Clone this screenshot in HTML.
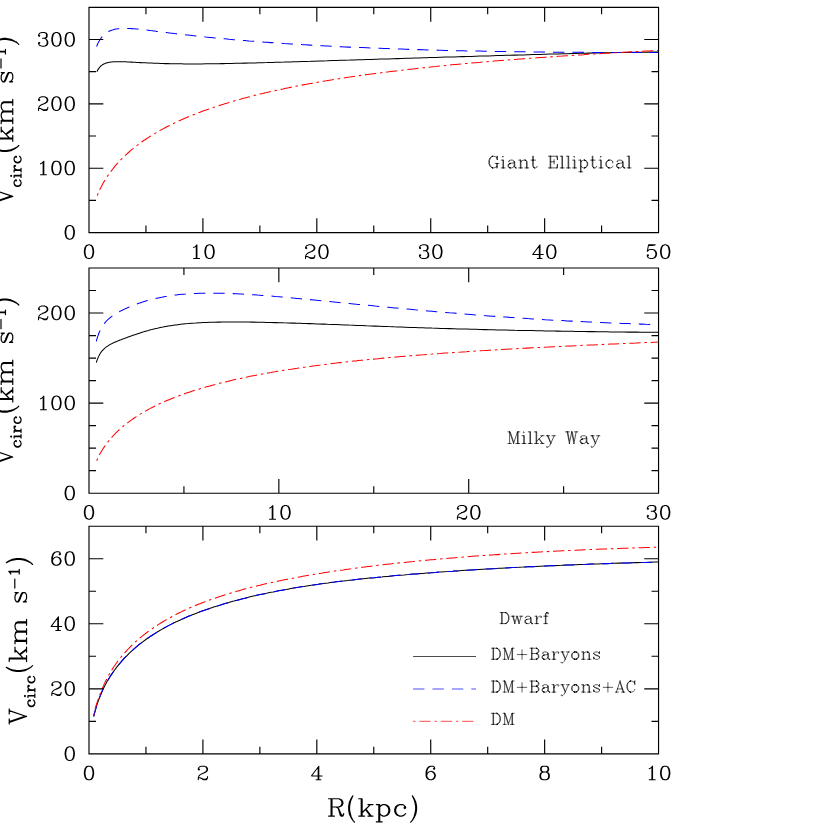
<!DOCTYPE html><html><head><meta charset="utf-8"><title>Circular velocity curves</title><style>html,body{margin:0;padding:0;background:#fff;font-family:"Liberation Sans",sans-serif}svg{display:block}</style></head><body><svg width="830" height="830" viewBox="0 0 830 830"><defs><path id="g40" d="M8.5 4.17L7 0.97L5.94 -2.49L5 -7.48L5 -12L6 -17.26L6.94 -20.26L8.62 -23.85M8.5 4.17L8.44 4.23M8.5 4.17L8.56 4.31M8.69 4.57L8.56 4.44M8.69 4.57L8.62 4.44M8.69 4.57L8.94 5.11L11 7.3M8.5 4.37L8.44 4.23M8.5 4.37L8.56 4.31M8.5 4.37L8.56 4.44M8.69 -24.12L8.81 -24.25M8.69 -24.12L8.75 -24.12M8.69 -24.12L8.62 -24.05M8.75 -24.12L8.69 -23.99M8.75 -24.12L8.81 -24.25M8.56 -23.92L8.62 -24.05M8.56 -23.92L7.06 -21.58L5 -17.19L4 -12L4 -7.48L5 -2.22L6.94 1.91L8.44 4.23M8.56 -23.92L8.62 -23.85M8.56 4.31L8.62 4.44M8.69 -23.99L8.62 -23.85M8.69 -23.99L8.62 -24.05M9 -24.59L8.81 -24.25M8.62 4.44L8.56 4.44"/><path id="g41" d="M5.31 4.57L5.38 4.44M5.31 4.57L5.06 5.11L3 7.3M5.31 4.57L5.44 4.44M5.25 -24.12L5.31 -23.99M5.25 -24.12L5.31 -24.12M5.25 -24.12L5.19 -24.25M5.19 -24.25L5.06 -24.59M5.19 -24.25L5.31 -24.12M5.31 -24.12L5.38 -24.05M5.44 -23.92L5.38 -24.05M5.44 -23.92L5.38 -23.85M5.44 -23.92L6.94 -21.58L9 -17.19L10 -12L10 -7.48L9 -2.22L7.06 1.91L5.56 4.23M5.44 4.31L5.5 4.17M5.44 4.31L5.38 4.44M5.44 4.31L5.5 4.37M5.56 4.23L5.5 4.37M5.56 4.23L5.5 4.17M5.31 -23.99L5.38 -23.85M5.31 -23.99L5.38 -24.05M5.5 4.17L7 0.97L8.06 -2.49L9 -7.48L9 -12L8 -17.26L7.06 -20.26L5.38 -23.85M5.38 4.44L5.44 4.44M5.5 4.37L5.44 4.44"/><path id="g43" d="M4 -9L13 -9M13 -9L13 -18M13 -9L13 0M13 -9L22 -9"/><path id="g45" d="M4 -9L22 -9"/><path id="g48" d="M8.38 -20.69L8.5 -20.75M8.38 -20.69L8.31 -20.75M8.38 -20.69L7 -20L6 -19L4.94 -16.81L4 -12.12L4 -8.88L5 -3.94L5.94 -2.06L7 -1L8.38 -0.31M11.69 -20.75L11.69 -20.69M11.69 -20.75L11.88 -20.69M11.69 -20.75L11.56 -20.81M8.38 -0.31L8.5 -0.25M8.38 -0.31L8.31 -0.25M8.62 -20.88L8.5 -20.81M8.62 -20.88L8.5 -20.75M8.62 -20.88L8.94 -21L11.06 -21L11.56 -20.81M8.31 -0.25L6 -1L4.06 -3.88L3 -8.88L3 -12.12L4 -17L6 -20L8.31 -20.75M8.31 -0.25L8.5 -0.19M8.5 -20.75L8.5 -20.81M8.62 -0.12L8.5 -0.19M8.62 -0.12L8.5 -0.25M8.62 -0.12L9 0L11.06 0L11.56 -0.19M11.56 -0.19L11.69 -0.31M11.56 -0.19L11.69 -0.25M11.81 -0.38L11.69 -0.31M11.81 -0.38L12.94 -0.94L14.06 -2.06L15 -3.94L16 -8.88L16 -12.12L15 -17L14 -19L12.94 -20.06L11.81 -20.62M11.81 -0.38L11.88 -0.31M11.88 -20.69L14 -20L15.94 -17.12L17 -12.12L17 -8.88L16 -4L14 -1L11.88 -0.31M11.88 -20.69L11.81 -20.62M8.5 -0.19L8.5 -0.25M11.56 -20.81L11.69 -20.69M11.69 -0.25L11.69 -0.31M11.69 -0.25L11.88 -0.31M8.5 -20.81L8.31 -20.75M11.81 -20.62L11.69 -20.69"/><path id="g49" d="M11 0L10 0M11 0L11 -20.88L10.94 -20.94L10 -19.94M11 0L15 0M10 0L6 0M10 0L10 -19.94M10 -19.94L7.94 -17.94L6 -17"/><path id="g50" d="M9.06 -9.44L9.06 -9.5M9.06 -9.44L9.19 -9.5M9.06 -9.44L8.94 -9.38M17 -5L16.94 -2.88M9.31 -9.62L9.19 -9.56M9.31 -9.62L9.44 -9.69M9.31 -9.62L9.38 -9.56M16.88 -2.75L16.06 -1.06L15 0L11 0L6.56 -2.69M16.88 -2.75L16.81 -2.81M16.88 -2.75L16.94 -2.88M6.56 -2.75L6.56 -2.69M6.56 -2.75L10.94 -1L14.06 -1L15.94 -1.94L16.81 -2.81M6.56 -2.75L6.44 -2.81M12.56 -20.81L12.06 -21L7.94 -21L5.12 -20.06L4 -19L3 -17L3 -16L4 -15L5 -16L4 -17M12.56 -20.81L12.69 -20.69M12.56 -20.81L12.69 -20.75M12.88 -20.69L15 -20L16 -19L17 -17L17 -14.94L15.94 -12.94L13.12 -11.06L9.5 -9.62M12.88 -20.69L12.69 -20.75M12.88 -20.69L12.81 -20.62M6.44 -2.81L6.44 -2.75M6.44 -2.81L6.31 -2.88M9.06 -9.5L8.94 -9.38M9.06 -9.5L9.19 -9.56M16.94 -2.88L16.81 -2.81M3 -2.06L3 -3.06L4 -6L6 -8L8.5 -9.25L8.94 -9.38M3 -2.06L3 0M3 -2.06L4 -3L6.06 -3L6.31 -2.88M9.19 -9.5L9.19 -9.56M9.19 -9.5L9.38 -9.56M9.38 -9.56L9.5 -9.62M12.81 -20.62L12.69 -20.69M12.81 -20.62L13.94 -20.06L15 -19L16 -17L16 -14.94L14.94 -12.94L11.94 -10.94L9.44 -9.69M12.69 -20.69L12.69 -20.75M6.31 -2.88L6.44 -2.75M9.44 -9.69L9.5 -9.62M6.56 -2.69L6.44 -2.75"/><path id="g51" d="M12.56 -0.19L12.06 0L7.94 0L5.12 -0.94L3.94 -2.06L3 -3.94L3 -5L4 -6L5 -5L4 -4M12.56 -0.19L12.69 -0.31M12.56 -0.19L12.69 -0.25M12.81 -12.38L12.69 -12.31M12.81 -12.38L14.06 -13.06L15 -14.94L15 -18L14 -20L12.81 -20.62M12.81 -12.38L12.88 -12.31M12.56 -20.81L12.06 -21L7.94 -21L5.12 -20.06L4 -19L3 -17L3 -16L4 -15L5 -16L4 -17M12.56 -20.81L12.69 -20.69M12.56 -20.81L12.69 -20.75M12.81 -0.38L12.69 -0.31M12.81 -0.38L13.94 -0.94L15.06 -2.06L16 -3.94L16 -7.06L15.06 -9.88M12.81 -0.38L12.88 -0.31M12.88 -20.69L14.88 -20.06L15.06 -19.88L16 -18L16 -14.94L15.06 -13.06L12.88 -12.31M12.88 -20.69L12.69 -20.75M12.88 -20.69L12.81 -20.62M12.69 -12.25L12.69 -12.31M12.69 -12.25L12.88 -12.31M12.69 -12.25L12.56 -12.19M12.69 -0.25L12.69 -0.31M12.69 -0.25L12.88 -0.31M12.88 -0.31L15 -1L16.06 -2.06L17 -3.94L17 -7L16 -9L15.06 -9.88M12.81 -20.62L12.69 -20.69M12.69 -20.69L12.69 -20.75M15.06 -9.88L13.94 -11.06L12.06 -12M12.69 -12.31L12.56 -12.19M12.06 -12L9 -12M12.06 -12L12.56 -12.19"/><path id="g52" d="M12 -19L12 -6M18 -6L13 -6M13 -20.88L12.38 -20.19L2.06 -6.12L2.12 -6L12 -6M13 -20.88L13 -21M13 -20.88L13 -6M16 0L13 0M13 -6L12 -6M13 -6L13 0M13 0L12 0M12 0L9 0M12 0L12 -6"/><path id="g53" d="M11.81 -0.38L11.69 -0.31M11.81 -0.38L12.94 -0.94L15 -3L16 -5.94L16 -8.06L15 -11L12.94 -13.06L11.81 -13.62M11.81 -0.38L11.88 -0.31M11.81 -13.62L11.69 -13.69M11.81 -13.62L11.88 -13.69M5 -20L10.12 -20L14.5 -20.88L14.56 -21M4 -4L5 -5L4 -6L3 -5L3 -3.94L3.94 -2.06L5 -1L7.94 0L11.06 0L11.56 -0.19M11.69 -0.31L11.56 -0.19M11.69 -0.31L11.69 -0.25M3.12 -11.12L3.06 -11.19M3.12 -11.12L3.06 -11.06L3.06 -11.19M3.12 -11.12L5 -13L7.94 -14L11.06 -14L11.56 -13.81M11.88 -13.69L14 -13L16 -11L17 -8.06L17 -5.94L16 -3L14 -1L11.88 -0.31M11.88 -13.69L11.69 -13.75M11.69 -13.75L11.69 -13.69M11.69 -13.75L11.56 -13.81M11.69 -13.69L11.56 -13.81M14.56 -21L5.06 -21L4.94 -20.81L3.06 -11.19M14.56 -21L15 -21M11.69 -0.25L11.88 -0.31M11.69 -0.25L11.56 -0.19"/><path id="g54" d="M9.5 -20.75L9.5 -20.81M9.5 -20.75L9.62 -20.88M9.5 -20.75L9.38 -20.69M8.38 -0.31L8.5 -0.25M8.38 -0.31L7 -1L5 -3L4 -5.94L4 -7.25M8.38 -0.31L8.31 -0.25M11.69 -12.75L11.69 -12.69M11.69 -12.75L11.88 -12.69M11.69 -12.75L11.56 -12.81M8.31 -0.25L6 -1L3.94 -3.12L3 -5.94L3 -12.06L4 -16L5 -18L7 -20L9.31 -20.75M8.31 -0.25L8.5 -0.19M4 -7.25L4 -12.06L5 -16L6 -18L8 -20L9.38 -20.69M4 -7.25L4.12 -7.31L5 -10L7 -12L9.94 -13L11.06 -13L11.56 -12.81M8.62 -0.12L8.5 -0.19M8.62 -0.12L8.5 -0.25M8.62 -0.12L9 0L11.06 0L11.56 -0.19M9.5 -20.81L9.31 -20.75M9.5 -20.81L9.62 -20.88M11.56 -0.19L11.69 -0.31M11.56 -0.19L11.69 -0.25M9.31 -20.75L9.38 -20.69M11.81 -0.38L11.69 -0.31M11.81 -0.38L12.94 -0.94L15 -3L16 -5.94L16 -7.06L15 -10L12.94 -12.06L11.81 -12.62M11.81 -0.38L11.88 -0.31M8.5 -0.19L8.5 -0.25M11.88 -12.69L14 -12L16 -10L17 -7.06L17 -5.94L16 -3L14 -1L11.88 -0.31M11.88 -12.69L11.81 -12.62M11.56 -12.81L11.69 -12.69M11.69 -0.25L11.69 -0.31M11.69 -0.25L11.88 -0.31M15 -18L14 -17L15 -16L16 -17L16 -18L14.94 -20.06L13.06 -21L9.94 -21L9.62 -20.88M11.81 -12.62L11.69 -12.69"/><path id="g56" d="M7.5 -12.25L7.5 -12.19M7.5 -12.25L7.62 -12.12M7.5 -12.25L7.38 -12.31M12.56 -0.19L12.06 0L8 0L7.62 -0.12M12.56 -0.19L12.69 -0.31M12.56 -0.19L12.69 -0.25M12.88 -11.69L15 -11L16 -10L17 -8L17 -3.94L16.06 -2.06L15 -1L12.88 -0.31M12.88 -11.69L12.69 -11.75M12.88 -11.69L12.81 -11.62M7.31 -20.75L5.12 -20.06L4.94 -19.88L4 -18L4 -14.94L4.94 -13.06L7.31 -12.25M7.31 -20.75L7.5 -20.81M7.31 -20.75L7.38 -20.69M7.38 -11.69L7.5 -11.75M7.38 -11.69L7.31 -11.75M7.38 -11.69L6 -11L5 -10L4 -8L4 -3.94L4.94 -2.06L6 -1L7.38 -0.31M7.5 -0.25L7.5 -0.19M7.5 -0.25L7.62 -0.12M7.5 -0.25L7.38 -0.31M12.81 -12.38L12.69 -12.31M12.81 -12.38L14.06 -13.06L15 -14.94L15 -18L14 -20L12.81 -20.62M12.81 -12.38L12.88 -12.31M12.56 -20.81L12.06 -21L7.94 -21L7.62 -20.88M12.56 -20.81L12.69 -20.69M12.56 -20.81L12.69 -20.75M12.81 -11.62L12.69 -11.69M12.81 -11.62L13.94 -11.06L15 -10L16 -8L16 -3.94L15.06 -2.06L13.94 -0.94L12.81 -0.38M12.81 -0.38L12.69 -0.31M12.81 -0.38L12.88 -0.31M7.38 -20.69L7.5 -20.75M7.38 -20.69L6.12 -20.06L5.94 -19.88L5 -18L5 -14.94L5.94 -13.06L7.38 -12.31M12.88 -20.69L14.88 -20.06L15.06 -19.88L16 -18L16 -14.94L15.06 -13.06L12.88 -12.31M12.88 -20.69L12.69 -20.75M12.88 -20.69L12.81 -20.62M7.62 -11.88L7.5 -11.81M7.62 -11.88L7.5 -11.75M7.62 -11.88L7.94 -12M12.69 -12.25L12.69 -12.31M12.69 -12.25L12.88 -12.31M12.69 -12.25L12.56 -12.19M12.69 -11.69L12.56 -11.81M12.69 -11.69L12.69 -11.75M7.38 -12.31L7.31 -12.25M12.69 -0.25L12.69 -0.31M12.69 -0.25L12.88 -0.31M7.38 -0.31L7.31 -0.25M7.5 -11.75L7.5 -11.81M12.81 -20.62L12.69 -20.69M7.62 -20.88L7.5 -20.81M7.62 -20.88L7.5 -20.75M7.31 -12.25L7.5 -12.19M7.31 -0.25L5 -1L3.94 -2.06L3 -3.94L3 -8L4 -10L5 -11L7.31 -11.75M7.31 -0.25L7.5 -0.19M7.94 -12L12.06 -12M7.94 -12L7.62 -12.12M12.69 -20.69L12.69 -20.75M7.62 -12.12L7.5 -12.19M12.69 -12.31L12.56 -12.19M7.5 -20.75L7.5 -20.81M7.62 -0.12L7.5 -0.19M12.06 -12L12.56 -12.19M12.06 -12L12.56 -11.81M12.69 -11.75L12.56 -11.81M7.5 -11.81L7.31 -11.75"/><path id="g65" d="M19 0L17 0M17 0L16 0M17 0L10 -20.94M16 0L13 0M16 0L14 -6M10 -20.94L10 -21M10 -20.94L5 -6M14 -6L5 -6M14 -6L10 -18M3 0L1 0M3 0L5 -6M3 0L7 0"/><path id="g66" d="M14.69 -0.25L14.69 -0.31M14.69 -0.25L14.88 -0.31M14.69 -0.25L14.56 -0.19M14.69 -11.31L14.56 -11.19M14.69 -11.31L14.69 -11.25M14.69 -11.31L14.81 -11.38M5 0L2 0M5 0L5 -21M5 0L6 0M14.69 -10.75L14.69 -10.69M14.69 -10.75L14.88 -10.69M14.69 -10.75L14.56 -10.81M5 -21L2 -21M5 -21L6 -21M14.69 -20.69L14.56 -20.81M14.69 -20.69L14.69 -20.75M14.69 -20.69L14.81 -20.62M14.56 -11.19L14.06 -11M14.56 -11.19L14.69 -11.25M14.56 -10.81L14.06 -11M14.56 -10.81L14.69 -10.69M14.81 -11.38L15.94 -11.94L17.06 -13.06L18 -14.94L18 -17L17 -19L15.94 -20.06L14.81 -20.62M14.81 -11.38L14.88 -11.31M14.81 -10.62L14.69 -10.69M14.81 -10.62L14.88 -10.69M14.81 -10.62L15.94 -10.06L17 -9L18 -7L18 -3.94L17.06 -2.06L15.94 -0.94L14.81 -0.38M14.88 -10.69L17 -10L18 -9L19 -7L19 -3.94L18.06 -2.06L17 -1L14.88 -0.31M14.69 -0.31L14.56 -0.19M14.69 -0.31L14.81 -0.38M6 -11L6 -21M6 -11L6 0M6 -11L14.06 -11M14.56 -0.19L14.06 0L6 0M14.69 -20.75L14.88 -20.69M14.69 -20.75L14.56 -20.81M14.81 -0.38L14.88 -0.31M14.88 -11.31L17 -12L18.06 -13.06L19 -14.94L19 -17L18 -19L17 -20L14.88 -20.69M14.88 -11.31L14.69 -11.25M14.56 -20.81L14.06 -21L6 -21M14.81 -20.62L14.88 -20.69"/><path id="g67" d="M17 -18.06L14.88 -20.06L12.06 -21L9.94 -21L9.62 -20.88M17 -18.06L17.94 -15.25M17 -18.06L17.94 -20.75M18 -5L17.06 -3.06L15 -1L12.06 0L10 0L9.62 -0.12M9.62 -20.88L9.5 -20.81M9.62 -20.88L9.5 -20.75M9.5 -0.19L9.31 -0.25M9.5 -0.19L9.5 -0.25M9.5 -0.19L9.62 -0.12M17.94 -20.75L18 -21M17.94 -20.75L17.94 -15.25M9.5 -20.81L9.31 -20.75M9.5 -20.81L9.5 -20.75M9.5 -0.25L9.62 -0.12M9.5 -0.25L9.38 -0.31M9.5 -20.75L9.38 -20.69M9.31 -0.25L7 -1L4.94 -3.06L4 -4.94L3 -7.94L3 -13.06L3.94 -15.88L5 -18L7 -20L9.31 -20.75M9.31 -0.25L9.38 -0.31M17.94 -15.25L18 -15M9.31 -20.75L9.38 -20.69M9.38 -0.31L8 -1L5.94 -3.06L5 -4.94L4 -7.94L4 -13.06L4.94 -15.88L6 -18L8 -20L9.38 -20.69"/><path id="g68" d="M12.88 -20.69L15 -20L17 -18L18.06 -15.88L19 -13.06L19 -7.94L18 -4.94L17.06 -3.06L15 -1L12.88 -0.31M12.88 -20.69L12.69 -20.75M12.88 -20.69L12.81 -20.62M6 0L5 0M6 0L6 -21M6 0L12.06 0L12.56 -0.19M12.56 -0.19L12.69 -0.31M12.56 -0.19L12.69 -0.25M5 0L2 0M5 0L5 -21M12.69 -20.69L12.56 -20.81M12.69 -20.69L12.69 -20.75M12.69 -20.69L12.81 -20.62M12.69 -0.31L12.69 -0.25M12.69 -0.31L12.81 -0.38M12.69 -20.75L12.56 -20.81M12.69 -0.25L12.88 -0.31M12.88 -0.31L12.81 -0.38M12.56 -20.81L12.06 -21L6 -21M6 -21L5 -21M5 -21L2 -21M12.81 -20.62L13.94 -20.06L16 -18L17.06 -15.88L18 -13.06L18 -7.94L17 -4.94L16.06 -3.06L13.94 -0.94L12.81 -0.38"/><path id="g69" d="M12 -15L12 -11M18 -6L17.94 -5.44M17.94 -5.44L17 0M17.94 -5.44L18 -0.06L17 0M17 0L6 0M12 -11L6 -11M12 -11L12 -7M17.94 -15.5L18 -15M17.94 -15.5L17 -21M17.94 -15.5L18 -20.94L17 -21M2 0L5 0M6 0L5 0M6 0L6 -11M5 0L5 -21M17 -21L6 -21M6 -21L5 -21M6 -21L6 -11M5 -21L2 -21"/><path id="g71" d="M9.5 -20.75L9.5 -20.81M9.5 -20.75L9.62 -20.88M9.5 -20.75L9.38 -20.69M18 -15L17.94 -15.25M17 -2.94L14.88 -0.94L12.06 0L10 0L9.62 -0.12M17 -2.94L17 -8M17 -2.94L17 0M9.5 -0.19L9.31 -0.25M9.5 -0.19L9.5 -0.25M9.5 -0.19L9.62 -0.12M9.5 -20.81L9.31 -20.75M9.5 -20.81L9.62 -20.88M9.31 -20.75L7 -20L5 -18L3.94 -15.88L3 -13.06L3 -7.94L4 -4.94L4.94 -3.06L7 -1L9.31 -0.25M9.31 -20.75L9.38 -20.69M18 -8L17 -8M18 -8L18 0M18 -8L21 -8M14 -8L17 -8M17 -18.06L14.88 -20.06L12.06 -21L9.94 -21L9.62 -20.88M17 -18.06L17.94 -15.25M17 -18.06L17.94 -20.75M9.5 -0.25L9.62 -0.12M9.5 -0.25L9.38 -0.31M18 -21L17.94 -20.75M17.94 -15.25L17.94 -20.75M9.38 -20.69L8 -20L6 -18L4.94 -15.88L4 -13.06L4 -7.94L5 -4.94L5.94 -3.06L8 -1L9.38 -0.31M9.31 -0.25L9.38 -0.31"/><path id="g77" d="M23 0L20 0M20 0L19 0M20 0L20 -21M19 0L16 0M19 0L18.94 -20.75M5 0L2 0M5 0L5 -20.75M5 0L8 0M12 0L12 -0.06M12 -3L6.06 -20.88L5.94 -21L5 -21M18.94 -20.75L19.06 -21L20 -21M18.94 -20.75L12 -0.06M5 -20.75L5 -21M5 -20.75L5.12 -20.69L12 -0.06M23 -21L20 -21M5 -21L2 -21"/><path id="g82" d="M14.69 -11.31L14.56 -11.19M14.69 -11.31L14.69 -11.25M14.69 -11.31L14.81 -11.38M5 0L2 0M5 0L5 -21M5 0L6 0M13.12 -9.75L14.06 -7.88L16 -1L17 0L19 0L19.88 -1.75M13.12 -9.75L13.06 -9.88M13.12 -9.75L13.19 -9.81M19.94 -1.88L19.81 -1.81M19.94 -1.88L20 -3M19.94 -1.88L19.88 -1.75M19.88 -1.75L19.81 -1.81M5 -21L2 -21M5 -21L6 -21M14.69 -20.69L14.56 -20.81M14.69 -20.69L14.69 -20.75M14.69 -20.69L14.81 -20.62M14.56 -11.19L14.06 -11L11.19 -11M14.56 -11.19L14.69 -11.25M14.81 -11.38L15.94 -11.94L17.06 -13.06L18 -14.94L18 -17L17 -19L15.94 -20.06L14.81 -20.62M14.81 -11.38L14.88 -11.31M13.06 -9.88L12.94 -10.06L11.25 -10.88L11.19 -11M13.06 -9.88L13.19 -9.81M6 -11L6 -21M6 -11L6 0M6 -11L11.19 -11M14.69 -20.75L14.88 -20.69M14.69 -20.75L14.56 -20.81M14.88 -11.31L17 -12L18.06 -13.06L19 -14.94L19 -17L18 -19L17 -20L14.88 -20.69M14.88 -11.31L14.69 -11.25M14.56 -20.81L14.06 -21L6 -21M14.81 -20.62L14.88 -20.69M6 0L9 0M19.81 -1.81L19 -1L18 -1L17 -2L14.19 -8.62L14 -9L13.19 -9.81"/><path id="g86" d="M10 0L10 -0.06M10 -0.06L3 -21M10 -0.06L17 -21M7 -21L4 -21M19 -21L17 -21M17 -21L13 -21M4 -21L3 -21M4 -21L10 -3M3 -21L1 -21"/><path id="g87" d="M8 -0.12L8 0M8 -0.12L4 -21M8 -0.12L12 -20.88M16 -5L13 -21M16 0L16 -0.12M12 -20.88L12 -21M12 -20.88L16 -0.12M8 -5L5 -21M23 -21L20 -21M20 -21L17 -21M20 -21L16 -0.12M5 -21L4 -21M5 -21L8 -21M4 -21L1 -21"/><path id="g97" d="M16.81 -0.12L16.69 -0.19M16.81 -0.12L16.75 -0.25M16.81 -0.12L17 0L18 0M6.62 -0.12L6.5 -0.19M6.62 -0.12L6.5 -0.25M6.62 -0.12L7 0L10.06 0L11.94 -0.94L14 -2.94M14 -11.81L14 -12L12.94 -13.06L11.06 -14L7 -14L5 -13L4 -12L4.06 -11L5 -11.06L5 -12M14 -11.81L14 -9.94M14 -11.81L14.12 -11.75L15 -10L15 -2.94L15.94 -1.06L16.75 -0.25M16.69 -0.19L14.94 -1.06L14 -2.94M16.69 -0.19L16.75 -0.25M6.5 -7.81L6.31 -7.75M6.5 -7.81L6.5 -7.75M6.5 -7.81L6.62 -7.88M6.38 -0.31L6.5 -0.25M6.38 -0.31L4.94 -1.06L4 -2.94L4 -5L4.94 -6.88L5.12 -7.06L6.38 -7.69M6.38 -0.31L6.31 -0.25M6.31 -0.25L4 -1L3 -2.94L3 -5L3.94 -6.88L4.12 -7.06L6.31 -7.75M6.31 -0.25L6.5 -0.19M6.5 -0.19L6.5 -0.25M6.31 -7.75L6.38 -7.69M14 -9.94L13 -9L12.81 -8.94L7.25 -8.06L6.62 -7.88M14 -9.94L14 -2.94M6.62 -7.88L6.5 -7.75M6.38 -7.69L6.5 -7.75"/><path id="g99" d="M8.5 -13.81L8.31 -13.75M8.5 -13.81L8.5 -13.75M8.5 -13.81L8.62 -13.88M16 -3L13.88 -0.94L11.06 0L9 0L8.62 -0.12M15 -11L14 -10L15 -9L16 -10L16 -11L13.94 -13.06L12.06 -14L8.94 -14L8.62 -13.88M8.31 -0.25L6 -1L4 -3L3 -5.94L3 -8.06L4 -11L6 -13L8.31 -13.75M8.31 -0.25L8.38 -0.31M8.31 -0.25L8.5 -0.19M8.5 -0.19L8.5 -0.25M8.5 -0.19L8.62 -0.12M8.38 -13.69L8.5 -13.75M8.38 -13.69L8.31 -13.75M8.38 -13.69L7 -13L5 -11L4 -8.06L4 -5.94L5 -3L7 -1L8.38 -0.31M8.38 -0.31L8.5 -0.25M8.5 -0.25L8.62 -0.12M8.5 -13.75L8.62 -13.88"/><path id="g102" d="M2 -14L5 -14M7.69 -20.81L6.12 -20.06L5.94 -19.88L5 -18L5 -14M7.69 -20.81L7.81 -20.88M7.69 -20.81L7.75 -20.75M6 0L5 0M6 0L6 -14M6 0L9 0M5 0L2 0M5 0L5 -14M7.81 -20.88L7.75 -20.75M7.81 -20.88L8 -21L10 -21L11 -20L11 -19L10 -18L9 -19L10 -20M7.75 -20.75L7 -20L6 -18L6 -14M10 -14L6 -14M6 -14L5 -14"/><path id="g105" d="M2 -14L5 -14M6 0L5 0M6 0L6 -13.94L5 -14M6 0L9 0M5 0L2 0M5 0L5 -14M4.06 -20.06L4 -20L5 -19L6 -20L5 -21L4.06 -20.06"/><path id="g107" d="M13 -14L15.94 -14M16.94 0L15.94 0M16.94 0L11 -8M16.94 0L19 0M15.94 0L13 0M15.94 0L10 -8M6 0L5 0M6 0L6 -4.06M6 0L9 0M5 0L2 0M5 0L5 -21M6 -4.06L6 -20.94L5 -21M6 -4.06L10 -8M15.94 -14L10 -8M15.94 -14L19 -14M5 -21L2 -21"/><path id="g108" d="M6 0L5 0M6 0L6 -20.94L5 -21M6 0L9 0M5 0L2 0M5 0L5 -21M5 -21L2 -21"/><path id="g109" d="M31 0L28 0M20 0L17 0M16 0L13 0M16 0L16 -11L15 -13L13.81 -13.62M16 0L17 0M5 0L2 0M5 0L5 -14M5 0L6 0M27 0L24 0M27 0L27 -11L26 -13L24.81 -13.62M27 0L28 0M24.56 -13.81L24.06 -14L21.94 -14L19.12 -13.06L17 -11M24.56 -13.81L24.69 -13.69M24.56 -13.81L24.69 -13.75M13.56 -13.81L13.06 -14L10.94 -14L8.12 -13.06L6 -11.06M13.56 -13.81L13.69 -13.69M13.56 -13.81L13.69 -13.75M2 -14L5 -14M24.88 -13.69L26.88 -13.06L27.06 -12.88L28 -11L28 0M24.88 -13.69L24.69 -13.75M24.88 -13.69L24.81 -13.62M13.88 -13.69L15.88 -13.06L16.06 -12.88L17 -11M13.88 -13.69L13.69 -13.75M13.88 -13.69L13.81 -13.62M5 -14L6 -13.94L6 -11.06M13.81 -13.62L13.69 -13.69M17 -11L17 0M24.81 -13.62L24.69 -13.69M24.69 -13.69L24.69 -13.75M13.69 -13.69L13.69 -13.75M6 0L6 -11.06M6 0L9 0"/><path id="g110" d="M13.56 -13.81L13.06 -14L10.94 -14L8.12 -13.06L6 -11.06M13.56 -13.81L13.69 -13.69M13.56 -13.81L13.69 -13.75M20 0L17 0M2 -14L5 -14M17 0L16 0M17 0L17 -11L16.06 -12.88L15.88 -13.06L13.88 -13.69M16 0L13 0M16 0L16 -11L15 -13L13.81 -13.62M6 0L5 0M6 0L6 -11.06M6 0L9 0M2 0L5 0M13.88 -13.69L13.69 -13.75M13.88 -13.69L13.81 -13.62M6 -11.06L6 -13.94L5 -14M5 0L5 -14M13.69 -13.69L13.69 -13.75M13.69 -13.69L13.81 -13.62"/><path id="g111" d="M8.5 -13.81L8.31 -13.75M8.5 -13.81L8.5 -13.75M8.5 -13.81L8.62 -13.88M11.81 -13.62L11.69 -13.69M11.81 -13.62L11.88 -13.69M11.81 -13.62L12.94 -13.06L15 -11L16 -8.06L16 -5.94L15 -3L12.94 -0.94L11.81 -0.38M11.69 -13.69L11.56 -13.81M11.69 -13.69L11.69 -13.75M8.31 -13.75L6 -13L4 -11L3 -8.06L3 -5.94L4 -3L6 -1L8.31 -0.25M8.31 -13.75L8.38 -13.69M8.38 -0.31L8.5 -0.25M8.38 -0.31L7 -1L5 -3L4 -5.94L4 -8.06L5 -11L7 -13L8.38 -13.69M8.38 -0.31L8.31 -0.25M8.31 -0.25L8.5 -0.19M8.38 -13.69L8.5 -13.75M8.62 -0.12L8.5 -0.19M8.62 -0.12L8.5 -0.25M8.62 -0.12L9 0L11.06 0L11.56 -0.19M11.69 -13.75L11.88 -13.69M11.69 -13.75L11.56 -13.81M11.56 -0.19L11.69 -0.31M11.56 -0.19L11.69 -0.25M8.62 -13.88L8.5 -13.75M8.62 -13.88L8.94 -14L11.06 -14L11.56 -13.81M11.81 -0.38L11.69 -0.31M11.81 -0.38L11.88 -0.31M8.5 -0.19L8.5 -0.25M11.69 -0.25L11.69 -0.31M11.69 -0.25L11.88 -0.31M11.88 -0.31L14 -1L16 -3L17 -5.94L17 -8.06L16 -11L14 -13L11.88 -13.69"/><path id="g112" d="M12.56 -13.81L12.06 -14L10 -14L8 -13L6 -11.06M12.56 -13.81L12.69 -13.69M12.56 -13.81L12.69 -13.75M2 -14L5 -14M12.56 -0.19L12.06 0L10 0L8 -1L6 -2.94M12.56 -0.19L12.69 -0.31M12.56 -0.19L12.69 -0.25M6 -11.06L6 -13.94L5 -14M6 -11.06L6 -2.94M12.88 -13.69L15 -13L17 -11L18 -8.06L18 -5.94L17 -3L15 -1L12.88 -0.31M12.88 -13.69L12.69 -13.75M12.88 -13.69L12.81 -13.62M6 7L5 7M6 7L6 -2.94M6 7L9 7M5 7L2 7M5 7L5 -14M12.69 -0.31L12.69 -0.25M12.69 -0.31L12.81 -0.38M12.69 -13.69L12.69 -13.75M12.69 -13.69L12.81 -13.62M12.69 -0.25L12.88 -0.31M12.88 -0.31L12.81 -0.38M12.81 -13.62L13.94 -13.06L16 -11L17 -8.06L17 -5.94L16 -3L13.94 -0.94L12.81 -0.38"/><path id="g114" d="M2 -14L5 -14M6 0L5 0M6 0L6 -8.25M6 0L9 0M5 0L2 0M5 0L5 -14M6 -8.25L6 -13.94L5 -14M6 -8.25L6.12 -8.31L7 -11L9 -13L11 -14L14 -14L15 -13L15 -12L14 -11L13 -12L14 -13"/><path id="g115" d="M14 -14L14 -13.81M14 -13.81L13.88 -13.75L13 -12M14 -13.81L14 -10.19L13.88 -10.19L13 -12M3 -4L3 -3.81M3 -3.81L3 -0.19L3.12 -0.19L4 -1.94M3 -3.81L3.12 -3.75L4 -1.94M14 -4.06L12.94 -5.06L11.06 -6L6.25 -7.88L4 -9L3 -10L3 -10.94M14 -4.06L14 -5L12.94 -6.06L11.06 -7L6.25 -8.88L4 -10L3 -10.94M14 -4.06L14 -2L12.94 -0.94L11.06 0L7 0L5 -1L4 -1.94M3 -10.94L3 -12L4 -13L6 -14L10.06 -14L11.94 -13.06L13 -12"/><path id="g116" d="M2 -14L5 -14M7.81 -0.12L7.69 -0.19M7.81 -0.12L7.75 -0.25M7.81 -0.12L8 0L10.06 0L11.94 -0.94L13 -3M6 -14L5 -14M6 -14L6 -21M6 -14L6 -3.94L6.94 -1.12L7.75 -0.25M6 -14L10 -14M7.75 -0.25L7.69 -0.19M7.69 -0.19L6.12 -0.94L5.94 -1.12L5 -3.94L5 -14M5 -14L5 -21"/><path id="g119" d="M13 -14L16 -3M12 -14L12 -13.94M1 -14L4 -14M4 -14L8 -0.06M4 -14L5 -14M16 0L16 -0.06M8 -14L5 -14M8 0L8 -0.06M8 -3L5 -14M23 -14L20 -14M16 -0.06L12 -13.94M16 -0.06L20 -14M12 -13.94L8 -0.06M20 -14L17 -14"/><path id="g121" d="M12 -14L16 -14M2 -14L4 -14M8 -14L5 -14M4 6L3 5L2 6L3 7L4.06 7L5.94 6.06L8.06 3.94L10 -0.06M10 -0.06L4 -14M10 -0.06L16 -14M5 -14L4 -14M5 -14L10 -2M18 -14L16 -14"/></defs><g fill="none"><rect width="830" height="830" fill="#fff"/><clipPath id="c0"><rect x="89.0" y="7.35" width="569.55" height="225.2"/></clipPath><clipPath id="c1"><rect x="89.0" y="268.0" width="569.55" height="225.2"/></clipPath><clipPath id="c2"><rect x="89.0" y="526.2" width="569.55" height="227.65"/></clipPath><path d="M96.9 71.7L97.2 71.1L97.5 70.5L97.8 69.9L98.1 69.4L98.5 68.9L98.8 68.4L99.2 67.9L99.5 67.4L99.9 67.0L100.3 66.6L100.7 66.2L101.1 65.8L101.3 65.7L101.5 65.4L102.0 65.1L102.4 64.8L102.9 64.5L103.4 64.2L103.9 63.9L104.4 63.7L105.0 63.5L105.5 63.2L105.6 63.2L106.1 63.0L106.7 62.9L107.3 62.7L107.9 62.5L108.6 62.4L109.3 62.3L110.0 62.2L110.0 62.2L110.7 62.1L111.4 62.0L112.2 61.9L113.0 61.8L113.8 61.8L114.3 61.7L114.6 61.7L115.5 61.7L116.4 61.7L117.4 61.7L118.3 61.7L118.7 61.7L119.3 61.7L120.3 61.7L121.4 61.7L122.5 61.7L123.0 61.7L123.6 61.8L124.8 61.8L126.0 61.8L127.2 61.9L127.4 61.9L128.5 62.0L129.9 62.0L131.2 62.1L131.7 62.1L132.6 62.2L134.1 62.2L135.6 62.3L136.1 62.4L137.2 62.4L138.8 62.5L140.4 62.6L140.5 62.6L142.2 62.7L144.0 62.8L144.8 62.8L145.8 62.8L147.7 62.9L149.2 63.0L149.6 63.0L151.7 63.1L153.5 63.2L153.7 63.2L155.9 63.3L157.9 63.3L158.1 63.3L160.4 63.4L162.2 63.5L162.8 63.5L165.2 63.6L166.6 63.6L167.8 63.6L170.4 63.7L170.9 63.7L173.1 63.7L175.3 63.8L175.9 63.8L178.8 63.8L179.6 63.8L181.7 63.8L184.0 63.9L184.8 63.9L188.0 63.9L188.3 63.9L191.3 63.9L192.7 63.9L194.6 63.9L197.0 63.9L198.1 63.9L201.4 63.9L201.8 63.9L205.5 63.8L205.8 63.8L209.3 63.8L210.1 63.8L213.3 63.7L214.5 63.7L217.4 63.7L218.8 63.7L221.7 63.6L223.2 63.6L226.0 63.5L227.5 63.5L230.6 63.4L231.9 63.4L235.2 63.3L236.2 63.3L240.1 63.2L240.6 63.2L244.9 63.1L245.1 63.1L249.3 63.0L250.2 63.0L253.7 62.9L255.5 62.9L258.0 62.8L261.0 62.7L262.4 62.7L266.7 62.6L266.7 62.6L271.1 62.4L272.5 62.4L275.4 62.3L278.6 62.2L279.8 62.2L284.1 62.1L284.8 62.0L288.5 61.9L291.3 61.9L292.8 61.8L297.2 61.7L297.9 61.7L301.6 61.5L304.8 61.4L305.9 61.4L310.3 61.3L311.9 61.2L314.6 61.2L319.0 61.0L319.3 61.0L323.3 60.9L326.9 60.8L327.7 60.7L332.0 60.6L334.7 60.5L336.4 60.5L340.7 60.3L342.8 60.3L345.1 60.2L349.4 60.1L351.1 60.0L353.8 59.9L358.2 59.8L359.7 59.8L362.5 59.7L366.9 59.5L368.7 59.5L371.2 59.4L375.6 59.3L377.9 59.2L379.9 59.1L384.3 59.0L387.4 58.9L388.6 58.9L393.0 58.7L397.2 58.6L397.3 58.6L401.7 58.5L406.1 58.3L407.3 58.3L410.4 58.2L414.8 58.1L417.8 58.0L419.1 57.9L423.5 57.8L427.8 57.7L428.6 57.6L432.2 57.5L436.5 57.4L439.7 57.3L440.9 57.3L445.2 57.1L449.6 57.0L451.3 57.0L453.9 56.9L458.3 56.7L462.7 56.6L463.2 56.6L467.0 56.5L471.4 56.4L475.5 56.2L475.7 56.2L480.1 56.1L484.4 56.0L488.2 55.9L488.8 55.9L493.1 55.7L497.5 55.6L501.3 55.5L501.8 55.5L506.2 55.3L510.6 55.2L514.8 55.1L514.9 55.1L519.3 55.0L523.6 54.9L528.0 54.7L528.8 54.7L532.3 54.6L536.7 54.5L541.0 54.4L543.3 54.3L545.4 54.2L549.7 54.1L554.1 54.0L558.2 53.9L558.5 53.9L562.8 53.8L567.2 53.7L571.5 53.5L573.6 53.5L575.9 53.4L580.2 53.3L584.6 53.2L588.9 53.1L589.5 53.1L593.3 53.0L597.6 52.9L602.0 52.8L606.0 52.8L606.3 52.8L610.7 52.7L615.1 52.6L619.4 52.5L623.0 52.5L623.8 52.4L628.1 52.4L632.5 52.3L636.8 52.3L640.5 52.2L641.2 52.2L645.5 52.2L649.9 52.1L654.2 52.1L658.6 52.0L658.6 52.0" fill="none" stroke="#000" stroke-width="1.05" clip-path="url(#c0)"/><path d="M96.6 46.5L96.9 45.7L97.2 45.0L97.5 44.3L97.8 43.6L98.1 43.0L98.5 42.3L98.8 41.6L99.2 41.0L99.5 40.4L99.9 39.8L100.3 39.2L100.7 38.6L101.0 38.2L101.1 38.0L101.6 37.4L102.0 36.9L102.5 36.3L102.9 35.8L103.4 35.3L104.0 34.8L104.5 34.3L105.0 33.9L105.3 33.6L105.6 33.4L106.2 33.0L106.8 32.6L107.4 32.2L108.0 31.8L108.7 31.5L109.4 31.1L109.7 31.0L110.1 30.8L110.8 30.5L111.6 30.2L112.3 29.9L113.2 29.7L114.0 29.5L114.0 29.5L114.8 29.3L115.7 29.1L116.6 28.9L117.6 28.8L118.4 28.7L118.6 28.7L119.6 28.6L120.6 28.5L121.7 28.4L122.7 28.4L122.8 28.4L124.0 28.4L125.2 28.4L126.4 28.4L127.1 28.4L127.7 28.4L129.0 28.5L130.3 28.5L131.5 28.6L131.7 28.6L133.2 28.7L134.7 28.8L135.8 28.9L136.2 29.0L137.8 29.1L139.4 29.3L140.2 29.4L141.1 29.5L142.9 29.7L144.5 29.9L144.7 29.9L146.6 30.1L148.5 30.3L148.9 30.4L150.5 30.6L152.6 30.8L153.2 30.9L154.7 31.1L156.9 31.4L157.6 31.4L159.2 31.6L161.6 31.9L161.9 32.0L164.0 32.2L166.3 32.5L166.5 32.6L169.1 32.9L170.7 33.1L171.8 33.2L174.5 33.5L175.0 33.6L177.4 33.9L179.4 34.1L180.4 34.2L183.4 34.6L183.7 34.6L186.6 34.9L188.1 35.1L189.8 35.3L192.4 35.6L193.2 35.7L196.7 36.1L196.8 36.1L200.3 36.4L201.2 36.5L204.0 36.8L205.5 37.0L207.8 37.2L209.9 37.4L211.8 37.6L214.2 37.9L215.8 38.0L218.6 38.3L220.1 38.4L222.9 38.7L224.4 38.8L227.3 39.1L228.9 39.3L231.7 39.5L233.6 39.7L236.0 39.9L238.4 40.1L240.4 40.2L243.4 40.5L244.7 40.6L248.5 40.9L249.1 41.0L253.4 41.3L253.8 41.3L257.8 41.6L259.3 41.8L262.2 42.0L265.0 42.2L266.5 42.3L270.8 42.6L270.9 42.6L275.2 42.9L276.9 43.0L279.6 43.2L283.1 43.4L283.9 43.5L288.3 43.8L289.6 43.9L292.6 44.0L296.2 44.3L297.0 44.3L301.4 44.6L303.1 44.7L305.7 44.8L310.1 45.1L310.2 45.1L314.4 45.3L317.6 45.5L318.8 45.6L323.1 45.8L325.1 45.9L327.5 46.0L331.9 46.2L333.0 46.3L336.2 46.4L340.6 46.7L341.1 46.7L344.9 46.9L349.3 47.1L349.4 47.1L353.6 47.3L358.0 47.4L358.1 47.4L362.4 47.6L366.7 47.8L367.0 47.8L371.1 48.0L375.4 48.1L376.2 48.2L379.8 48.3L384.1 48.5L385.8 48.5L388.5 48.6L392.8 48.8L395.6 48.9L397.2 48.9L401.6 49.1L405.8 49.2L405.9 49.2L410.3 49.4L414.6 49.5L416.3 49.6L419.0 49.6L423.3 49.8L427.1 49.9L427.7 49.9L432.1 50.0L436.4 50.1L438.3 50.2L440.8 50.2L445.1 50.4L449.5 50.5L449.9 50.5L453.8 50.6L458.2 50.7L461.9 50.8L462.6 50.8L466.9 50.9L471.3 51.0L474.2 51.0L475.6 51.0L480.0 51.1L484.3 51.2L487.0 51.3L488.7 51.3L493.0 51.4L497.4 51.4L500.2 51.5L501.8 51.5L506.1 51.6L510.5 51.7L513.8 51.7L514.8 51.7L519.2 51.8L523.5 51.8L527.9 51.9L527.9 51.9L532.3 51.9L536.6 52.0L541.0 52.0L542.4 52.0L545.3 52.1L549.7 52.1L554.0 52.2L557.5 52.2L558.4 52.2L562.8 52.2L567.1 52.3L571.5 52.3L573.0 52.3L575.8 52.3L580.2 52.3L584.5 52.4L588.9 52.4L589.0 52.4L593.3 52.4L597.6 52.4L602.0 52.4L605.6 52.4L606.3 52.4L610.7 52.4L615.0 52.4L619.4 52.4L622.7 52.5L623.7 52.5L628.1 52.5L632.5 52.5L636.8 52.4L640.3 52.4L641.2 52.4L645.5 52.4L649.9 52.4L654.2 52.4L658.6 52.4L658.6 52.4" fill="none" stroke="#00f" stroke-width="1.05" stroke-dasharray="11.35 8.05" clip-path="url(#c0)"/><path d="M97.2 195.6L98.2 193.3L99.2 191.0L100.2 188.8L101.4 186.5L101.6 186.2L102.5 184.3L103.7 182.2L105.0 180.0L105.9 178.6L106.4 177.9L107.7 175.8L109.2 173.7L110.3 172.2L110.7 171.7L112.2 169.7L113.8 167.7L114.6 166.7L115.4 165.7L117.2 163.7L118.9 161.8L119.0 161.7L120.7 159.9L122.6 158.0L123.3 157.3L124.5 156.1L126.5 154.3L127.7 153.2L128.5 152.5L130.5 150.7L132.0 149.4L132.7 148.9L134.8 147.1L136.4 146.0L137.1 145.4L139.4 143.7L140.7 142.7L141.7 142.0L144.1 140.3L145.1 139.7L146.5 138.7L149.0 137.1L149.4 136.8L151.6 135.4L153.8 134.1L154.2 133.9L156.8 132.3L158.1 131.6L159.5 130.7L162.3 129.2L162.5 129.1L165.1 127.7L166.8 126.8L168.0 126.2L170.9 124.8L171.2 124.6L173.9 123.3L175.5 122.5L176.9 121.9L179.9 120.5L180.0 120.5L183.1 119.1L184.2 118.6L186.3 117.7L188.6 116.7L189.5 116.3L192.8 115.0L192.9 115.0L196.2 113.7L197.3 113.3L199.6 112.4L201.6 111.6L203.0 111.1L206.0 110.0L206.5 109.8L210.1 108.6L210.4 108.5L213.7 107.3L214.7 107.0L217.4 106.1L219.1 105.6L221.1 104.9L223.4 104.2L224.8 103.7L227.8 102.9L228.7 102.6L232.1 101.6L232.5 101.4L236.5 100.3L236.5 100.3L240.5 99.2L240.8 99.1L244.5 98.1L245.2 97.9L248.6 97.0L249.5 96.8L252.7 95.9L253.9 95.6L256.9 94.9L258.2 94.5L261.2 93.8L262.6 93.5L265.5 92.8L266.9 92.5L269.8 91.8L271.3 91.5L274.2 90.8L275.6 90.5L278.7 89.8L280.0 89.5L283.2 88.9L284.3 88.6L287.7 87.9L288.7 87.7L292.4 87.0L293.0 86.8L297.0 86.0L297.4 86.0L301.7 85.1L301.8 85.1L306.1 84.3L306.5 84.2L310.4 83.5L311.4 83.4L314.8 82.7L316.2 82.5L319.1 82.0L321.2 81.6L323.5 81.2L326.2 80.8L327.9 80.5L331.2 79.9L332.2 79.8L336.3 79.1L336.6 79.1L340.9 78.4L341.4 78.3L345.3 77.7L346.6 77.5L349.6 77.1L351.9 76.7L354.0 76.4L357.2 76.0L358.3 75.8L362.6 75.2L362.7 75.2L367.0 74.6L368.0 74.5L371.4 74.0L373.4 73.7L375.7 73.4L379.0 73.0L380.1 72.9L384.4 72.3L384.5 72.3L388.8 71.8L390.2 71.6L393.1 71.2L395.8 70.9L397.5 70.7L401.6 70.2L401.8 70.2L406.2 69.7L407.3 69.5L410.5 69.2L413.2 68.9L414.9 68.7L419.1 68.2L419.2 68.2L423.6 67.7L425.0 67.6L427.9 67.3L431.0 66.9L432.3 66.8L436.7 66.4L437.1 66.3L441.0 65.9L443.2 65.7L445.4 65.5L449.3 65.1L449.7 65.1L454.1 64.6L455.5 64.5L458.4 64.2L461.8 63.9L462.8 63.8L467.1 63.4L468.1 63.3L471.5 63.0L474.5 62.8L475.8 62.7L480.2 62.3L480.9 62.2L484.5 61.9L487.4 61.7L488.9 61.5L493.2 61.2L493.9 61.1L497.6 60.8L500.5 60.6L501.9 60.5L506.3 60.1L507.1 60.0L510.6 59.8L513.8 59.5L515.0 59.4L519.3 59.1L520.5 59.0L523.7 58.8L527.3 58.5L528.0 58.4L532.4 58.1L534.1 58.0L536.7 57.8L541.0 57.5L541.1 57.5L545.4 57.2L548.0 57.0L549.8 56.9L554.2 56.6L555.0 56.5L558.5 56.3L562.1 56.1L562.9 56.0L567.2 55.7L569.2 55.6L571.6 55.4L575.9 55.2L576.3 55.1L580.3 54.9L583.5 54.7L584.6 54.6L589.0 54.3L590.8 54.2L593.3 54.1L597.7 53.8L598.1 53.8L602.0 53.5L605.5 53.3L606.4 53.3L610.7 53.0L612.9 52.9L615.1 52.8L619.4 52.5L620.4 52.5L623.8 52.3L627.9 52.0L628.1 52.0L632.5 51.8L635.5 51.6L636.8 51.6L641.2 51.3L643.2 51.2L645.5 51.1L649.9 50.9L650.9 50.8L654.2 50.6L658.6 50.4L658.6 50.4" fill="none" stroke="#f00" stroke-width="1.05" stroke-dasharray="2.5 3.75 11.3 3.85" clip-path="url(#c0)"/><path d="M96.4 362.6L96.6 361.7L96.9 360.7L97.2 359.9L97.5 359.0L97.8 358.2L98.2 357.4L98.5 356.6L98.9 355.9L99.2 355.2L99.6 354.5L100.0 353.8L100.4 353.2L100.7 352.7L100.8 352.6L101.2 352.0L101.7 351.4L102.1 350.8L102.6 350.3L103.1 349.8L103.6 349.3L104.1 348.8L104.6 348.3L105.1 347.9L105.2 347.8L105.8 347.4L106.3 346.9L107.0 346.5L107.6 346.1L108.2 345.6L108.9 345.2L109.4 344.9L109.6 344.8L110.3 344.4L111.1 344.0L111.8 343.6L112.6 343.2L113.4 342.8L113.8 342.7L114.3 342.5L115.2 342.1L116.1 341.7L117.0 341.3L118.0 340.9L118.2 340.8L119.0 340.5L120.0 340.1L121.1 339.7L122.2 339.2L122.5 339.1L123.3 338.8L124.5 338.4L125.7 337.9L126.9 337.5L126.9 337.5L128.2 337.0L129.6 336.5L131.0 336.0L131.2 335.9L132.4 335.5L133.9 335.0L135.4 334.5L135.6 334.4L137.0 333.9L138.6 333.4L139.9 333.0L140.3 332.9L142.0 332.3L143.8 331.8L144.3 331.6L145.7 331.2L147.6 330.7L148.7 330.4L149.6 330.1L151.6 329.6L153.0 329.2L153.8 329.1L155.9 328.5L157.4 328.2L158.2 328.0L160.5 327.5L161.7 327.3L163.0 327.1L165.5 326.6L166.1 326.5L168.0 326.1L170.5 325.7L170.7 325.7L173.4 325.3L174.8 325.1L176.3 324.9L179.2 324.5L179.2 324.5L182.3 324.1L183.5 324.0L185.4 323.8L187.9 323.6L188.6 323.5L192.0 323.2L192.2 323.2L195.5 323.0L196.6 322.9L199.0 322.8L201.0 322.7L202.7 322.6L205.3 322.5L206.5 322.4L209.7 322.3L210.5 322.3L214.0 322.2L214.6 322.2L218.4 322.1L218.8 322.1L222.8 322.0L223.1 322.0L227.1 322.0L227.6 322.0L231.5 322.0L232.3 322.0L235.8 322.0L237.1 322.0L240.2 322.0L242.0 322.0L244.5 322.0L247.2 322.0L248.9 322.0L252.5 322.1L253.3 322.1L257.6 322.2L257.9 322.2L262.0 322.3L263.6 322.3L266.3 322.4L269.4 322.4L270.7 322.5L275.1 322.6L275.5 322.6L279.4 322.7L281.7 322.7L283.8 322.8L288.1 322.9L288.1 322.9L292.5 323.1L294.8 323.1L296.8 323.2L301.2 323.3L301.7 323.4L305.6 323.5L308.8 323.6L309.9 323.6L314.3 323.8L316.2 323.9L318.6 323.9L323.0 324.1L323.7 324.1L327.4 324.3L331.6 324.4L331.7 324.4L336.1 324.6L339.7 324.7L340.4 324.7L344.8 324.9L348.1 325.0L349.2 325.1L353.5 325.2L356.7 325.4L357.9 325.4L362.2 325.6L365.7 325.7L366.6 325.8L370.9 325.9L374.9 326.1L375.3 326.1L379.7 326.2L384.0 326.4L384.5 326.4L388.4 326.6L392.7 326.7L394.3 326.8L397.1 326.9L401.5 327.0L404.5 327.2L405.8 327.2L410.2 327.4L414.5 327.5L415.1 327.5L418.9 327.7L423.2 327.8L425.9 327.9L427.6 327.9L432.0 328.1L436.3 328.2L437.2 328.2L440.7 328.4L445.0 328.5L448.8 328.6L449.4 328.6L453.8 328.7L458.1 328.9L460.8 328.9L462.5 329.0L466.8 329.1L471.2 329.2L473.2 329.3L475.5 329.3L479.9 329.5L484.3 329.6L486.0 329.6L488.6 329.7L493.0 329.8L497.3 329.9L499.3 329.9L501.7 330.0L506.1 330.1L510.4 330.2L513.0 330.2L514.8 330.3L519.1 330.4L523.5 330.5L527.1 330.5L527.8 330.5L532.2 330.6L536.6 330.7L540.9 330.8L541.7 330.8L545.3 330.9L549.6 331.0L554.0 331.0L556.8 331.1L558.4 331.1L562.7 331.2L567.1 331.2L571.4 331.3L572.4 331.3L575.8 331.4L580.1 331.4L584.5 331.5L588.6 331.6L588.9 331.6L593.2 331.6L597.6 331.7L601.9 331.7L605.2 331.8L606.3 331.8L610.7 331.9L615.0 331.9L619.4 332.0L622.4 332.0L623.7 332.0L628.1 332.1L632.4 332.1L636.8 332.1L640.2 332.2L641.2 332.2L645.5 332.2L649.9 332.3L654.2 332.3L658.6 332.3L658.6 332.3" fill="none" stroke="#000" stroke-width="1.05" clip-path="url(#c1)"/><path d="M96.4 341.3L96.6 340.2L96.9 339.1L97.2 338.1L97.5 337.1L97.8 336.1L98.2 335.2L98.5 334.2L98.9 333.3L99.2 332.4L99.6 331.5L100.0 330.7L100.4 329.9L100.7 329.2L100.8 329.0L101.2 328.2L101.7 327.5L102.1 326.7L102.6 326.0L103.1 325.2L103.6 324.5L104.1 323.8L104.6 323.1L105.1 322.6L105.2 322.5L105.8 321.8L106.3 321.2L107.0 320.5L107.6 319.9L108.2 319.3L108.9 318.7L109.4 318.2L109.6 318.1L110.3 317.5L111.1 316.9L111.8 316.3L112.6 315.8L113.4 315.2L113.8 315.0L114.3 314.6L115.2 314.1L116.1 313.5L117.0 313.0L118.0 312.4L118.2 312.3L119.0 311.9L120.0 311.3L121.1 310.8L122.2 310.2L122.5 310.1L123.3 309.7L124.5 309.1L125.7 308.5L126.9 308.0L126.9 308.0L128.2 307.4L129.6 306.8L131.0 306.3L131.2 306.1L132.4 305.7L133.9 305.1L135.4 304.5L135.6 304.4L137.0 303.9L138.6 303.3L139.9 302.9L140.3 302.7L142.0 302.2L143.8 301.6L144.3 301.4L145.7 301.0L147.6 300.5L148.7 300.2L149.6 299.9L151.6 299.4L153.0 299.1L153.8 298.9L155.9 298.4L157.4 298.0L158.2 297.9L160.5 297.4L161.7 297.2L163.0 296.9L165.5 296.5L166.1 296.4L168.0 296.1L170.5 295.7L170.7 295.7L173.4 295.3L174.8 295.1L176.3 295.0L179.2 294.6L179.2 294.6L182.3 294.3L183.5 294.2L185.4 294.1L187.9 293.9L188.6 293.8L192.0 293.6L192.2 293.6L195.5 293.5L196.6 293.4L199.0 293.3L201.0 293.3L202.7 293.2L205.3 293.2L206.5 293.2L209.7 293.2L210.5 293.2L214.0 293.2L214.6 293.2L218.4 293.2L218.8 293.2L222.8 293.3L223.1 293.3L227.1 293.4L227.6 293.4L231.5 293.6L232.3 293.6L235.8 293.7L237.1 293.8L240.2 294.0L242.0 294.0L244.5 294.2L247.2 294.3L248.9 294.4L252.5 294.7L253.3 294.7L257.6 295.0L257.9 295.1L262.0 295.4L263.6 295.5L266.3 295.7L269.4 295.9L270.7 296.0L275.1 296.4L275.5 296.5L279.4 296.8L281.7 297.0L283.8 297.2L288.1 297.6L288.1 297.6L292.5 298.0L294.8 298.2L296.8 298.4L301.2 298.8L301.7 298.9L305.6 299.2L308.8 299.5L309.9 299.6L314.3 300.1L316.2 300.3L318.6 300.5L323.0 300.9L323.7 301.0L327.4 301.4L331.6 301.8L331.7 301.8L336.1 302.2L339.7 302.6L340.4 302.7L344.8 303.1L348.1 303.4L349.2 303.5L353.5 303.9L356.7 304.3L357.9 304.4L362.2 304.8L365.7 305.1L366.6 305.2L370.9 305.6L374.9 306.0L375.3 306.1L379.7 306.5L384.0 306.9L384.5 306.9L388.4 307.3L392.7 307.7L394.3 307.9L397.1 308.1L401.5 308.5L404.5 308.8L405.8 308.9L410.2 309.3L414.5 309.7L415.1 309.8L418.9 310.1L423.2 310.5L425.9 310.8L427.6 310.9L432.0 311.3L436.3 311.7L437.2 311.7L440.7 312.0L445.0 312.4L448.8 312.7L449.4 312.8L453.8 313.1L458.1 313.5L460.8 313.7L462.5 313.9L466.8 314.2L471.2 314.5L473.2 314.7L475.5 314.9L479.9 315.2L484.3 315.6L486.0 315.7L488.6 315.9L493.0 316.2L497.3 316.5L499.3 316.7L501.7 316.8L506.1 317.1L510.4 317.4L513.0 317.6L514.8 317.7L519.1 318.0L523.5 318.3L527.1 318.5L527.8 318.6L532.2 318.9L536.6 319.1L540.9 319.4L541.7 319.4L545.3 319.7L549.6 319.9L554.0 320.2L556.8 320.3L558.4 320.4L562.7 320.6L567.1 320.9L571.4 321.1L572.4 321.1L575.8 321.3L580.1 321.5L584.5 321.7L588.6 321.9L588.9 321.9L593.2 322.1L597.6 322.3L601.9 322.5L605.2 322.7L606.3 322.7L610.7 322.9L615.0 323.1L619.4 323.3L622.4 323.4L623.7 323.4L628.1 323.6L632.4 323.8L636.8 323.9L640.2 324.1L641.2 324.1L645.5 324.3L649.9 324.4L654.2 324.6L658.6 324.8L658.6 324.8" fill="none" stroke="#00f" stroke-width="1.05" stroke-dasharray="11.35 8.05" clip-path="url(#c1)"/><path d="M96.7 460.7L97.6 458.6L98.6 456.6L99.6 454.6L100.7 452.6L101.0 452.1L101.8 450.7L103.0 448.8L104.3 446.9L105.4 445.3L105.6 445.0L107.0 443.2L108.4 441.3L109.7 439.7L109.8 439.5L111.4 437.8L112.9 436.0L114.1 434.8L114.6 434.3L116.2 432.6L118.0 430.9L118.4 430.5L119.8 429.3L121.6 427.6L122.8 426.6L123.5 426.0L125.4 424.4L127.1 423.1L127.5 422.9L129.5 421.3L131.5 419.9L131.6 419.8L133.8 418.3L135.9 416.9L136.0 416.8L138.3 415.3L140.2 414.1L140.6 413.9L143.0 412.5L144.6 411.6L145.4 411.1L147.9 409.7L148.9 409.1L150.4 408.4L153.0 407.0L153.3 406.9L155.6 405.7L157.6 404.7L158.3 404.4L161.1 403.1L162.0 402.7L163.9 401.9L166.3 400.8L166.8 400.6L169.7 399.4L170.7 399.0L172.6 398.2L175.1 397.3L175.7 397.0L178.7 395.9L179.4 395.6L181.8 394.7L183.8 394.0L185.0 393.6L188.1 392.5L188.3 392.5L191.5 391.4L192.5 391.1L194.9 390.3L196.8 389.7L198.3 389.2L201.2 388.4L201.7 388.2L205.2 387.2L205.6 387.1L208.8 386.2L209.9 385.9L212.4 385.2L214.3 384.7L216.0 384.2L218.6 383.5L219.8 383.2L223.0 382.4L223.5 382.3L227.3 381.4L227.3 381.4L231.2 380.4L231.7 380.3L235.2 379.5L236.0 379.3L239.1 378.7L240.4 378.4L243.2 377.8L244.8 377.5L247.3 376.9L249.1 376.6L251.4 376.1L253.5 375.7L255.6 375.3L257.8 374.8L259.8 374.5L262.2 374.0L264.1 373.7L266.5 373.2L268.5 372.9L270.9 372.5L272.9 372.1L275.3 371.7L277.4 371.3L279.6 371.0L281.9 370.6L284.0 370.3L286.5 369.9L288.3 369.6L291.1 369.2L292.7 368.9L295.8 368.4L297.0 368.3L300.5 367.7L301.4 367.6L305.3 367.1L305.7 367.0L310.1 366.4L310.1 366.4L314.5 365.8L315.0 365.7L318.8 365.2L320.0 365.1L323.2 364.7L325.0 364.4L327.5 364.1L330.0 363.8L331.9 363.6L335.1 363.2L336.2 363.1L340.3 362.6L340.6 362.6L345.0 362.1L345.5 362.0L349.3 361.6L350.7 361.4L353.7 361.1L356.1 360.9L358.0 360.6L361.4 360.3L362.4 360.2L366.7 359.8L366.9 359.7L371.1 359.3L372.3 359.2L375.4 358.9L377.9 358.7L379.8 358.5L383.5 358.1L384.2 358.1L388.5 357.7L389.1 357.6L392.9 357.3L394.8 357.1L397.2 356.9L400.5 356.6L401.6 356.5L405.9 356.2L406.3 356.1L410.3 355.8L412.2 355.6L414.7 355.4L418.1 355.2L419.0 355.1L423.4 354.8L424.1 354.7L427.7 354.4L430.1 354.2L432.1 354.1L436.2 353.8L436.4 353.8L440.8 353.5L442.3 353.3L445.1 353.1L448.5 352.9L449.5 352.8L453.9 352.5L454.7 352.5L458.2 352.2L461.0 352.1L462.6 351.9L466.9 351.7L467.3 351.6L471.3 351.4L473.7 351.2L475.6 351.1L480.0 350.8L480.1 350.8L484.4 350.6L486.6 350.4L488.7 350.3L493.1 350.0L493.2 350.0L497.4 349.8L499.8 349.6L501.8 349.5L506.1 349.3L506.4 349.3L510.5 349.0L513.2 348.9L514.8 348.8L519.2 348.5L519.9 348.5L523.6 348.3L526.7 348.1L527.9 348.1L532.3 347.8L533.6 347.8L536.6 347.6L540.5 347.4L541.0 347.4L545.3 347.2L547.5 347.1L549.7 346.9L554.1 346.7L554.5 346.7L558.4 346.5L561.6 346.4L562.8 346.3L567.1 346.1L568.8 346.0L571.5 345.9L575.8 345.7L576.0 345.7L580.2 345.5L583.2 345.3L584.5 345.3L588.9 345.1L590.5 345.0L593.3 344.9L597.6 344.7L597.9 344.7L602.0 344.5L605.3 344.3L606.3 344.3L610.7 344.1L612.7 344.0L615.0 343.9L619.4 343.7L620.2 343.7L623.8 343.5L627.8 343.4L628.1 343.4L632.5 343.2L635.4 343.1L636.8 343.0L641.2 342.8L643.1 342.7L645.5 342.6L649.9 342.5L650.8 342.4L654.2 342.3L658.6 342.1L658.6 342.1" fill="none" stroke="#f00" stroke-width="1.05" stroke-dasharray="2.5 3.75 11.3 3.85" clip-path="url(#c1)"/><path d="M93.7 716.5L94.6 712.8L95.6 709.3L96.6 705.8L97.7 702.5L98.1 701.6L98.9 699.2L100.1 696.1L101.4 693.1L102.4 690.6L102.7 690.1L104.0 687.3L105.5 684.5L106.8 682.1L106.9 681.8L108.5 679.2L110.0 676.7L111.2 674.9L111.7 674.1L113.4 671.7L115.1 669.3L115.6 668.7L116.9 666.9L118.8 664.6L120.0 663.2L120.7 662.3L122.6 660.1L124.3 658.2L124.6 657.9L126.7 655.8L128.7 653.8L128.8 653.7L131.0 651.6L133.1 649.7L133.2 649.6L135.5 647.6L137.5 645.9L137.8 645.6L140.2 643.7L141.9 642.5L142.7 641.8L145.2 640.0L146.2 639.2L147.7 638.2L150.3 636.4L150.6 636.2L153.0 634.7L155.0 633.4L155.7 633.0L158.5 631.3L159.4 630.7L161.3 629.6L163.7 628.2L164.1 628.0L167.1 626.4L168.1 625.9L170.0 624.9L172.5 623.6L173.1 623.3L176.2 621.8L176.9 621.5L179.3 620.4L181.3 619.5L182.5 618.9L185.6 617.6L185.8 617.5L189.1 616.1L190.0 615.7L192.4 614.8L194.4 614.0L195.8 613.4L198.8 612.3L199.3 612.1L202.8 610.8L203.2 610.7L206.4 609.6L207.5 609.2L210.0 608.3L211.9 607.7L213.7 607.1L216.3 606.3L217.4 605.9L220.7 604.9L221.2 604.7L225.1 603.6L225.1 603.6L228.9 602.5L229.4 602.3L232.9 601.3L233.8 601.1L236.9 600.3L238.2 599.9L241.0 599.2L242.6 598.8L245.1 598.2L247.0 597.7L249.2 597.1L251.3 596.6L253.4 596.1L255.7 595.6L257.7 595.1L260.1 594.6L262.0 594.2L264.5 593.7L266.4 593.3L268.8 592.7L270.9 592.3L273.2 591.9L275.3 591.4L277.6 591.0L279.9 590.6L282.0 590.2L284.5 589.7L286.4 589.4L289.1 588.9L290.7 588.6L293.8 588.0L295.1 587.8L298.6 587.2L299.5 587.1L303.4 586.5L303.9 586.4L308.3 585.7L308.3 585.7L312.6 585.1L313.2 585.0L317.0 584.4L318.1 584.3L321.4 583.8L323.2 583.6L325.8 583.2L328.2 582.9L330.2 582.6L333.4 582.2L334.5 582.1L338.6 581.6L338.9 581.5L343.3 581.0L343.8 580.9L347.7 580.5L349.1 580.3L352.1 580.0L354.4 579.7L356.4 579.5L359.9 579.1L360.8 579.0L365.2 578.5L365.3 578.5L369.6 578.1L370.8 578.0L374.0 577.7L376.4 577.4L378.3 577.2L382.0 576.9L382.7 576.8L387.1 576.4L387.7 576.4L391.5 576.0L393.4 575.8L395.8 575.6L399.2 575.3L400.2 575.2L404.6 574.9L405.0 574.8L409.0 574.5L410.9 574.3L413.4 574.1L416.8 573.9L417.7 573.8L422.1 573.4L422.8 573.4L426.5 573.1L428.9 572.9L430.9 572.8L435.0 572.5L435.3 572.4L439.6 572.1L441.1 572.0L444.0 571.8L447.3 571.6L448.4 571.5L452.8 571.2L453.6 571.1L457.2 570.9L459.9 570.7L461.5 570.6L465.9 570.3L466.3 570.3L470.3 570.0L472.7 569.9L474.7 569.8L479.1 569.5L479.2 569.5L483.4 569.2L485.7 569.1L487.8 569.0L492.2 568.7L492.3 568.7L496.6 568.5L498.9 568.3L500.9 568.2L505.3 568.0L505.6 568.0L509.7 567.7L512.4 567.6L514.1 567.5L518.5 567.3L519.2 567.2L522.8 567.1L526.0 566.9L527.2 566.8L531.6 566.6L532.9 566.6L536.0 566.4L539.9 566.2L540.4 566.2L544.7 566.0L546.9 565.9L549.1 565.8L553.5 565.6L554.0 565.6L557.9 565.4L561.1 565.3L562.3 565.2L566.6 565.0L568.3 565.0L571.0 564.9L575.4 564.7L575.5 564.7L579.8 564.5L582.8 564.4L584.2 564.4L588.5 564.2L590.1 564.1L592.9 564.0L597.3 563.9L597.5 563.9L601.7 563.7L605.0 563.6L606.0 563.6L610.4 563.4L612.5 563.3L614.8 563.3L619.2 563.1L620.0 563.1L623.6 563.0L627.6 562.9L627.9 562.9L632.3 562.7L635.3 562.6L636.7 562.6L641.1 562.5L643.0 562.4L645.5 562.4L649.8 562.2L650.8 562.2L654.2 562.1L658.6 562.0" fill="none" stroke="#000" stroke-width="1.05" clip-path="url(#c2)"/><path d="M93.7 716.5L94.6 712.8L95.6 709.3L96.6 705.8L97.7 702.5L98.1 701.6L98.9 699.2L100.1 696.1L101.4 693.1L102.4 690.6L102.7 690.1L104.0 687.3L105.5 684.5L106.8 682.1L106.9 681.8L108.5 679.2L110.0 676.7L111.2 674.9L111.7 674.1L113.4 671.7L115.1 669.3L115.6 668.7L116.9 666.9L118.8 664.6L120.0 663.2L120.7 662.3L122.6 660.1L124.3 658.2L124.6 657.9L126.7 655.8L128.7 653.8L128.8 653.7L131.0 651.6L133.1 649.7L133.2 649.6L135.5 647.6L137.5 645.9L137.8 645.6L140.2 643.7L141.9 642.5L142.7 641.8L145.2 640.0L146.2 639.2L147.7 638.2L150.3 636.4L150.6 636.2L153.0 634.7L155.0 633.4L155.7 633.0L158.5 631.3L159.4 630.7L161.3 629.6L163.7 628.2L164.1 628.0L167.1 626.4L168.1 625.9L170.0 624.9L172.5 623.6L173.1 623.3L176.2 621.8L176.9 621.5L179.3 620.4L181.3 619.5L182.5 618.9L185.6 617.6L185.8 617.5L189.1 616.1L190.0 615.7L192.4 614.8L194.4 614.0L195.8 613.4L198.8 612.3L199.3 612.1L202.8 610.8L203.2 610.7L206.4 609.6L207.5 609.2L210.0 608.3L211.9 607.7L213.7 607.1L216.3 606.3L217.4 605.9L220.7 604.9L221.2 604.7L225.1 603.6L225.1 603.6L228.9 602.5L229.4 602.3L232.9 601.3L233.8 601.1L236.9 600.3L238.2 599.9L241.0 599.2L242.6 598.8L245.1 598.2L247.0 597.7L249.2 597.1L251.3 596.6L253.4 596.1L255.7 595.6L257.7 595.1L260.1 594.6L262.0 594.2L264.5 593.7L266.4 593.3L268.8 592.7L270.9 592.3L273.2 591.9L275.3 591.4L277.6 591.0L279.9 590.6L282.0 590.2L284.5 589.7L286.4 589.4L289.1 588.9L290.7 588.6L293.8 588.0L295.1 587.8L298.6 587.2L299.5 587.1L303.4 586.5L303.9 586.4L308.3 585.7L308.3 585.7L312.6 585.1L313.2 585.0L317.0 584.4L318.1 584.3L321.4 583.8L323.2 583.6L325.8 583.2L328.2 582.9L330.2 582.6L333.4 582.2L334.5 582.1L338.6 581.6L338.9 581.5L343.3 581.0L343.8 580.9L347.7 580.5L349.1 580.3L352.1 580.0L354.4 579.7L356.4 579.5L359.9 579.1L360.8 579.0L365.2 578.5L365.3 578.5L369.6 578.1L370.8 578.0L374.0 577.7L376.4 577.4L378.3 577.2L382.0 576.9L382.7 576.8L387.1 576.4L387.7 576.4L391.5 576.0L393.4 575.8L395.8 575.6L399.2 575.3L400.2 575.2L404.6 574.9L405.0 574.8L409.0 574.5L410.9 574.3L413.4 574.1L416.8 573.9L417.7 573.8L422.1 573.4L422.8 573.4L426.5 573.1L428.9 572.9L430.9 572.8L435.0 572.5L435.3 572.4L439.6 572.1L441.1 572.0L444.0 571.8L447.3 571.6L448.4 571.5L452.8 571.2L453.6 571.1L457.2 570.9L459.9 570.7L461.5 570.6L465.9 570.3L466.3 570.3L470.3 570.0L472.7 569.9L474.7 569.8L479.1 569.5L479.2 569.5L483.4 569.2L485.7 569.1L487.8 569.0L492.2 568.7L492.3 568.7L496.6 568.5L498.9 568.3L500.9 568.2L505.3 568.0L505.6 568.0L509.7 567.7L512.4 567.6L514.1 567.5L518.5 567.3L519.2 567.2L522.8 567.1L526.0 566.9L527.2 566.8L531.6 566.6L532.9 566.6L536.0 566.4L539.9 566.2L540.4 566.2L544.7 566.0L546.9 565.9L549.1 565.8L553.5 565.6L554.0 565.6L557.9 565.4L561.1 565.3L562.3 565.2L566.6 565.0L568.3 565.0L571.0 564.9L575.4 564.7L575.5 564.7L579.8 564.5L582.8 564.4L584.2 564.4L588.5 564.2L590.1 564.1L592.9 564.0L597.3 563.9L597.5 563.9L601.7 563.7L605.0 563.6L606.0 563.6L610.4 563.4L612.5 563.3L614.8 563.3L619.2 563.1L620.0 563.1L623.6 563.0L627.6 562.9L627.9 562.9L632.3 562.7L635.3 562.6L636.7 562.6L641.1 562.5L643.0 562.4L645.5 562.4L649.8 562.2L650.8 562.2L654.2 562.1L658.6 562.0" fill="none" stroke="#00f" stroke-width="1.05" stroke-dasharray="11.35 8.05" clip-path="url(#c2)"/><path d="M93.7 715.5L94.5 711.5L95.4 708.0L96.3 704.8L97.3 701.8L98.1 699.6L98.4 698.8L99.5 695.7L100.6 692.6L101.8 689.6L102.5 688.1L103.1 686.6L104.4 683.6L105.8 680.8L106.8 678.8L107.2 678.0L108.7 675.2L110.3 672.6L111.2 671.0L111.9 669.9L113.5 667.3L115.3 664.8L115.6 664.3L117.0 662.3L118.8 659.9L120.0 658.4L120.7 657.5L122.7 655.1L124.4 653.2L124.7 652.8L126.7 650.6L128.7 648.4L128.8 648.4L131.0 646.2L133.1 644.1L133.2 644.0L135.4 641.9L137.5 640.1L137.8 639.9L140.1 637.8L141.9 636.4L142.6 635.8L145.1 633.9L146.2 633.0L147.6 631.9L150.2 630.0L150.6 629.7L152.9 628.2L155.0 626.7L155.6 626.4L158.3 624.6L159.4 623.9L161.2 622.8L163.8 621.2L164.1 621.1L167.0 619.3L168.1 618.7L170.0 617.7L172.5 616.3L173.0 616.0L176.1 614.4L176.9 614.0L179.3 612.8L181.3 611.9L182.5 611.3L185.7 609.8L185.8 609.7L189.1 608.2L190.0 607.8L192.5 606.8L194.4 605.9L195.9 605.3L198.8 604.1L199.4 603.9L202.9 602.5L203.2 602.4L206.5 601.2L207.6 600.8L210.2 599.8L211.9 599.2L213.9 598.5L216.3 597.7L217.7 597.2L220.7 596.2L221.5 595.9L225.1 594.8L225.4 594.7L229.3 593.5L229.5 593.4L233.3 592.3L233.8 592.1L237.3 591.1L238.2 590.9L241.4 590.0L242.6 589.6L245.6 588.8L247.0 588.5L249.8 587.7L251.3 587.3L254.1 586.6L255.7 586.2L258.4 585.6L260.1 585.2L262.8 584.5L264.5 584.1L267.2 583.5L268.9 583.1L271.7 582.5L273.2 582.2L276.3 581.5L277.6 581.2L280.9 580.5L282.0 580.3L285.5 579.6L286.4 579.4L290.2 578.7L290.8 578.6L295.0 577.7L295.1 577.7L299.5 576.9L299.8 576.9L303.9 576.1L304.7 576.0L308.3 575.3L309.6 575.1L312.7 574.6L314.6 574.3L317.0 573.9L319.7 573.4L321.4 573.2L324.8 572.6L325.8 572.5L329.9 571.8L330.2 571.8L334.5 571.1L335.1 571.0L338.9 570.5L340.4 570.3L343.3 569.9L345.7 569.5L347.7 569.2L351.1 568.8L352.1 568.6L356.4 568.1L356.5 568.0L360.8 567.5L362.0 567.3L365.2 566.9L367.6 566.6L369.6 566.4L373.2 565.9L374.0 565.8L378.3 565.3L378.8 565.3L382.7 564.8L384.6 564.6L387.1 564.3L390.3 563.9L391.5 563.8L395.9 563.3L396.1 563.3L400.2 562.8L402.0 562.7L404.6 562.4L408.0 562.0L409.0 561.9L413.4 561.5L413.9 561.4L417.8 561.0L420.0 560.8L422.1 560.6L426.1 560.2L426.5 560.2L430.9 559.8L432.2 559.7L435.3 559.4L438.5 559.1L439.6 559.0L444.0 558.6L444.7 558.6L448.4 558.2L451.1 558.0L452.8 557.9L457.2 557.5L457.4 557.5L461.5 557.2L463.9 557.0L465.9 556.8L470.3 556.5L470.4 556.5L474.7 556.1L476.9 556.0L479.1 555.8L483.4 555.5L483.5 555.5L487.8 555.2L490.2 555.0L492.2 554.9L496.6 554.6L496.9 554.6L501.0 554.3L503.6 554.1L505.3 554.0L509.7 553.7L510.5 553.7L514.1 553.4L517.3 553.2L518.5 553.2L522.8 552.9L524.3 552.8L527.2 552.7L531.3 552.4L531.6 552.4L536.0 552.2L538.3 552.0L540.4 551.9L544.7 551.7L545.4 551.7L549.1 551.5L552.6 551.3L553.5 551.2L557.9 551.0L559.8 550.9L562.3 550.8L566.6 550.6L567.1 550.6L571.0 550.4L574.4 550.2L575.4 550.2L579.8 550.0L581.8 549.9L584.2 549.8L588.5 549.6L589.2 549.6L592.9 549.4L596.7 549.3L597.3 549.3L601.7 549.1L604.2 549.0L606.1 548.9L610.4 548.7L611.8 548.7L614.8 548.6L619.2 548.4L619.5 548.4L623.6 548.3L627.2 548.2L627.9 548.1L632.3 548.0L635.0 547.9L636.7 547.8L641.1 547.7L642.8 547.7L645.5 547.6L649.8 547.4L650.7 547.4L654.2 547.3L658.6 547.2" fill="none" stroke="#f00" stroke-width="1.05" stroke-dasharray="2.5 3.75 11.3 3.85" clip-path="url(#c2)"/><path d="M89.0 7.35H658.55V232.55H89.0ZM145.95 232.55v-7.0M145.95 7.35v7.0M202.91 232.55v-14.3M202.91 7.35v14.3M259.87 232.55v-7.0M259.87 7.35v7.0M316.82 232.55v-14.3M316.82 7.35v14.3M373.77 232.55v-7.0M373.77 7.35v7.0M430.73 232.55v-14.3M430.73 7.35v14.3M487.68 232.55v-7.0M487.68 7.35v7.0M544.64 232.55v-14.3M544.64 7.35v14.3M601.59 232.55v-7.0M601.59 7.35v7.0M89.0 200.38h7.0M658.55 200.38h-7.0M89.0 168.21h14.3M658.55 168.21h-14.3M89.0 136.04h7.0M658.55 136.04h-7.0M89.0 103.86h14.3M658.55 103.86h-14.3M89.0 71.69h7.0M658.55 71.69h-7.0M89.0 39.52h14.3M658.55 39.52h-14.3M89.0 268.0H658.55V493.2H89.0ZM183.93 493.2v-7.0M183.93 268.0v7.0M278.85 493.2v-14.3M278.85 268.0v14.3M373.77 493.2v-7.0M373.77 268.0v7.0M468.7 493.2v-14.3M468.7 268.0v14.3M563.62 493.2v-7.0M563.62 268.0v7.0M89.0 470.68h7.0M658.55 470.68h-7.0M89.0 448.16h7.0M658.55 448.16h-7.0M89.0 425.64h7.0M658.55 425.64h-7.0M89.0 403.12h14.3M658.55 403.12h-14.3M89.0 380.6h7.0M658.55 380.6h-7.0M89.0 358.08h7.0M658.55 358.08h-7.0M89.0 335.56h7.0M658.55 335.56h-7.0M89.0 313.04h14.3M658.55 313.04h-14.3M89.0 290.52h7.0M658.55 290.52h-7.0M89.0 526.2H658.55V753.85H89.0ZM145.95 753.85v-7.0M145.95 526.2v7.0M202.91 753.85v-14.3M202.91 526.2v14.3M259.87 753.85v-7.0M259.87 526.2v7.0M316.82 753.85v-14.3M316.82 526.2v14.3M373.77 753.85v-7.0M373.77 526.2v7.0M430.73 753.85v-14.3M430.73 526.2v14.3M487.69 753.85v-7.0M487.69 526.2v7.0M544.64 753.85v-14.3M544.64 526.2v14.3M601.6 753.85v-7.0M601.6 526.2v7.0M89.0 721.33h7.0M658.55 721.33h-7.0M89.0 688.81h14.3M658.55 688.81h-14.3M89.0 656.29h7.0M658.55 656.29h-7.0M89.0 623.76h14.3M658.55 623.76h-14.3M89.0 591.24h7.0M658.55 591.24h-7.0M89.0 558.72h14.3M658.55 558.72h-14.3" fill="none" stroke="#000" stroke-width="1.15" stroke-linejoin="miter"/><g transform="translate(89 258.5) scale(0.6649 0.6500)" stroke="#000" stroke-width="1.54" stroke-linecap="round" stroke-linejoin="round"><use href="#g48" x="-10"/></g><g transform="translate(202.91 258.5) scale(0.6649 0.6500)" stroke="#000" stroke-width="1.54" stroke-linecap="round" stroke-linejoin="round"><use href="#g49" x="-20"/><use href="#g48" x="0"/></g><g transform="translate(316.82 258.5) scale(0.6649 0.6500)" stroke="#000" stroke-width="1.54" stroke-linecap="round" stroke-linejoin="round"><use href="#g50" x="-20"/><use href="#g48" x="0"/></g><g transform="translate(430.73 258.5) scale(0.6649 0.6500)" stroke="#000" stroke-width="1.54" stroke-linecap="round" stroke-linejoin="round"><use href="#g51" x="-20"/><use href="#g48" x="0"/></g><g transform="translate(544.64 258.5) scale(0.6649 0.6500)" stroke="#000" stroke-width="1.54" stroke-linecap="round" stroke-linejoin="round"><use href="#g52" x="-20"/><use href="#g48" x="0"/></g><g transform="translate(658.55 258.5) scale(0.6649 0.6500)" stroke="#000" stroke-width="1.54" stroke-linecap="round" stroke-linejoin="round"><use href="#g53" x="-20"/><use href="#g48" x="0"/></g><g transform="translate(76.4 239.18) scale(0.6649 0.6500)" stroke="#000" stroke-width="1.54" stroke-linecap="round" stroke-linejoin="round"><use href="#g48" x="-20"/></g><g transform="translate(76.4 174.83) scale(0.6649 0.6500)" stroke="#000" stroke-width="1.54" stroke-linecap="round" stroke-linejoin="round"><use href="#g49" x="-60"/><use href="#g48" x="-40"/><use href="#g48" x="-20"/></g><g transform="translate(76.4 110.49) scale(0.6649 0.6500)" stroke="#000" stroke-width="1.54" stroke-linecap="round" stroke-linejoin="round"><use href="#g50" x="-60"/><use href="#g48" x="-40"/><use href="#g48" x="-20"/></g><g transform="translate(76.4 46.15) scale(0.6649 0.6500)" stroke="#000" stroke-width="1.54" stroke-linecap="round" stroke-linejoin="round"><use href="#g51" x="-60"/><use href="#g48" x="-40"/><use href="#g48" x="-20"/></g><g transform="translate(89 519.15) scale(0.6649 0.6500)" stroke="#000" stroke-width="1.54" stroke-linecap="round" stroke-linejoin="round"><use href="#g48" x="-10"/></g><g transform="translate(278.85 519.15) scale(0.6649 0.6500)" stroke="#000" stroke-width="1.54" stroke-linecap="round" stroke-linejoin="round"><use href="#g49" x="-20"/><use href="#g48" x="0"/></g><g transform="translate(468.7 519.15) scale(0.6649 0.6500)" stroke="#000" stroke-width="1.54" stroke-linecap="round" stroke-linejoin="round"><use href="#g50" x="-20"/><use href="#g48" x="0"/></g><g transform="translate(658.55 519.15) scale(0.6649 0.6500)" stroke="#000" stroke-width="1.54" stroke-linecap="round" stroke-linejoin="round"><use href="#g51" x="-20"/><use href="#g48" x="0"/></g><g transform="translate(76.4 499.82) scale(0.6649 0.6500)" stroke="#000" stroke-width="1.54" stroke-linecap="round" stroke-linejoin="round"><use href="#g48" x="-20"/></g><g transform="translate(76.4 409.75) scale(0.6649 0.6500)" stroke="#000" stroke-width="1.54" stroke-linecap="round" stroke-linejoin="round"><use href="#g49" x="-60"/><use href="#g48" x="-40"/><use href="#g48" x="-20"/></g><g transform="translate(76.4 319.66) scale(0.6649 0.6500)" stroke="#000" stroke-width="1.54" stroke-linecap="round" stroke-linejoin="round"><use href="#g50" x="-60"/><use href="#g48" x="-40"/><use href="#g48" x="-20"/></g><g transform="translate(89 779.8) scale(0.6649 0.6500)" stroke="#000" stroke-width="1.54" stroke-linecap="round" stroke-linejoin="round"><use href="#g48" x="-10"/></g><g transform="translate(202.91 779.8) scale(0.6649 0.6500)" stroke="#000" stroke-width="1.54" stroke-linecap="round" stroke-linejoin="round"><use href="#g50" x="-10"/></g><g transform="translate(316.82 779.8) scale(0.6649 0.6500)" stroke="#000" stroke-width="1.54" stroke-linecap="round" stroke-linejoin="round"><use href="#g52" x="-10"/></g><g transform="translate(430.73 779.8) scale(0.6649 0.6500)" stroke="#000" stroke-width="1.54" stroke-linecap="round" stroke-linejoin="round"><use href="#g54" x="-10"/></g><g transform="translate(544.64 779.8) scale(0.6649 0.6500)" stroke="#000" stroke-width="1.54" stroke-linecap="round" stroke-linejoin="round"><use href="#g56" x="-10"/></g><g transform="translate(658.55 779.8) scale(0.6649 0.6500)" stroke="#000" stroke-width="1.54" stroke-linecap="round" stroke-linejoin="round"><use href="#g49" x="-20"/><use href="#g48" x="0"/></g><g transform="translate(76.4 760.48) scale(0.6649 0.6500)" stroke="#000" stroke-width="1.54" stroke-linecap="round" stroke-linejoin="round"><use href="#g48" x="-20"/></g><g transform="translate(76.4 695.43) scale(0.6649 0.6500)" stroke="#000" stroke-width="1.54" stroke-linecap="round" stroke-linejoin="round"><use href="#g50" x="-40"/><use href="#g48" x="-20"/></g><g transform="translate(76.4 630.39) scale(0.6649 0.6500)" stroke="#000" stroke-width="1.54" stroke-linecap="round" stroke-linejoin="round"><use href="#g52" x="-40"/><use href="#g48" x="-20"/></g><g transform="translate(76.4 565.35) scale(0.6649 0.6500)" stroke="#000" stroke-width="1.54" stroke-linecap="round" stroke-linejoin="round"><use href="#g54" x="-40"/><use href="#g48" x="-20"/></g><g transform="translate(373.4 816.1) scale(0.8374 0.8250)" stroke="#000" stroke-width="1.45" stroke-linecap="round" stroke-linejoin="round"><use href="#g82" x="-55.5"/><use href="#g40" x="-33.5"/><use href="#g107" x="-19.5"/><use href="#g112" x="1.5"/><use href="#g99" x="22.5"/><use href="#g41" x="41.5"/></g><g transform="translate(487.2 167.9) scale(0.5620 0.5550)" stroke="#000" stroke-width="1.17" stroke-linecap="round" stroke-linejoin="round"><use href="#g71" x="0"/><use href="#g105" x="23"/><use href="#g97" x="34"/><use href="#g110" x="54"/><use href="#g116" x="76"/><use href="#g69" x="107"/><use href="#g108" x="128"/><use href="#g108" x="139"/><use href="#g105" x="150"/><use href="#g112" x="161"/><use href="#g116" x="182"/><use href="#g105" x="197"/><use href="#g99" x="208"/><use href="#g97" x="227"/><use href="#g108" x="247"/></g><g transform="translate(506.8 443.5) scale(0.5640 0.5550)" stroke="#000" stroke-width="1.17" stroke-linecap="round" stroke-linejoin="round"><use href="#g77" x="0"/><use href="#g105" x="25"/><use href="#g108" x="36"/><use href="#g107" x="47"/><use href="#g121" x="68"/><use href="#g87" x="103"/><use href="#g97" x="127"/><use href="#g121" x="147"/></g><g transform="translate(499 623.6) scale(0.5270)" stroke="#000" stroke-width="1.18" stroke-linecap="round" stroke-linejoin="round"><use href="#g68" x="0"/><use href="#g119" x="22"/><use href="#g97" x="46"/><use href="#g114" x="66"/><use href="#g102" x="83"/></g><g transform="translate(490.4 659.3) scale(0.5270)" stroke="#000" stroke-width="1.18" stroke-linecap="round" stroke-linejoin="round"><use href="#g68" x="0"/><use href="#g77" x="22"/><use href="#g43" x="47"/><use href="#g66" x="73"/><use href="#g97" x="95"/><use href="#g114" x="115"/><use href="#g121" x="132"/><use href="#g111" x="151"/><use href="#g110" x="171"/><use href="#g115" x="193"/></g><g transform="translate(490.4 692.1) scale(0.5270)" stroke="#000" stroke-width="1.18" stroke-linecap="round" stroke-linejoin="round"><use href="#g68" x="0"/><use href="#g77" x="22"/><use href="#g43" x="47"/><use href="#g66" x="73"/><use href="#g97" x="95"/><use href="#g114" x="115"/><use href="#g121" x="132"/><use href="#g111" x="151"/><use href="#g110" x="171"/><use href="#g115" x="193"/><use href="#g43" x="210"/><use href="#g65" x="236"/><use href="#g67" x="256"/></g><g transform="translate(490.4 724.4) scale(0.5270)" stroke="#000" stroke-width="1.18" stroke-linecap="round" stroke-linejoin="round"><use href="#g68" x="0"/><use href="#g77" x="22"/></g><path d="M413.1 656.5H476.0" stroke="#000" stroke-width="0.7" fill="none"/><path d="M413.1 689.0H476.0" stroke="#00f" stroke-width="0.7" stroke-dasharray="11.35 8.05" fill="none"/><path d="M413.1 721.3H476.0" stroke="#f00" stroke-width="0.7" stroke-dasharray="2.5 3.75 11.3 3.85" fill="none"/><g transform="translate(12.75 204.78) rotate(-90) scale(0.8390 0.8250)" stroke="#000" stroke-width="1.45" stroke-linecap="round" stroke-linejoin="round"><use href="#g86" x="0"/></g><g transform="translate(21.05 187.99) rotate(-90) scale(0.5034 0.4950)" stroke="#000" stroke-width="2.42" stroke-linecap="round" stroke-linejoin="round"><use href="#g99" x="0"/><use href="#g105" x="19"/><use href="#g114" x="30"/><use href="#g99" x="47"/></g><g transform="translate(12.75 154.77) rotate(-90) scale(0.8390 0.8250)" stroke="#000" stroke-width="1.45" stroke-linecap="round" stroke-linejoin="round"><use href="#g40" x="0"/><use href="#g107" x="14"/><use href="#g109" x="35"/><use href="#g115" x="84"/></g><g transform="translate(5.45 70.03) rotate(-90) scale(0.5034 0.4950)" stroke="#000" stroke-width="2.42" stroke-linecap="round" stroke-linejoin="round"><use href="#g45" x="0"/><use href="#g49" x="26"/></g><g transform="translate(12.75 46.87) rotate(-90) scale(0.8390 0.8250)" stroke="#000" stroke-width="1.45" stroke-linecap="round" stroke-linejoin="round"><use href="#g41" x="0"/></g><g transform="translate(12.75 465.43) rotate(-90) scale(0.8390 0.8250)" stroke="#000" stroke-width="1.45" stroke-linecap="round" stroke-linejoin="round"><use href="#g86" x="0"/></g><g transform="translate(21.05 448.64) rotate(-90) scale(0.5034 0.4950)" stroke="#000" stroke-width="2.42" stroke-linecap="round" stroke-linejoin="round"><use href="#g99" x="0"/><use href="#g105" x="19"/><use href="#g114" x="30"/><use href="#g99" x="47"/></g><g transform="translate(12.75 415.42) rotate(-90) scale(0.8390 0.8250)" stroke="#000" stroke-width="1.45" stroke-linecap="round" stroke-linejoin="round"><use href="#g40" x="0"/><use href="#g107" x="14"/><use href="#g109" x="35"/><use href="#g115" x="84"/></g><g transform="translate(5.45 330.68) rotate(-90) scale(0.5034 0.4950)" stroke="#000" stroke-width="2.42" stroke-linecap="round" stroke-linejoin="round"><use href="#g45" x="0"/><use href="#g49" x="26"/></g><g transform="translate(12.75 307.52) rotate(-90) scale(0.8390 0.8250)" stroke="#000" stroke-width="1.45" stroke-linecap="round" stroke-linejoin="round"><use href="#g41" x="0"/></g><g transform="translate(26.55 724.85) rotate(-90) scale(0.8390 0.8250)" stroke="#000" stroke-width="1.45" stroke-linecap="round" stroke-linejoin="round"><use href="#g86" x="0"/></g><g transform="translate(34.85 708.07) rotate(-90) scale(0.5034 0.4950)" stroke="#000" stroke-width="2.42" stroke-linecap="round" stroke-linejoin="round"><use href="#g99" x="0"/><use href="#g105" x="19"/><use href="#g114" x="30"/><use href="#g99" x="47"/></g><g transform="translate(26.55 674.84) rotate(-90) scale(0.8390 0.8250)" stroke="#000" stroke-width="1.45" stroke-linecap="round" stroke-linejoin="round"><use href="#g40" x="0"/><use href="#g107" x="14"/><use href="#g109" x="35"/><use href="#g115" x="84"/></g><g transform="translate(19.25 590.1) rotate(-90) scale(0.5034 0.4950)" stroke="#000" stroke-width="2.42" stroke-linecap="round" stroke-linejoin="round"><use href="#g45" x="0"/><use href="#g49" x="26"/></g><g transform="translate(26.55 566.95) rotate(-90) scale(0.8390 0.8250)" stroke="#000" stroke-width="1.45" stroke-linecap="round" stroke-linejoin="round"><use href="#g41" x="0"/></g></g></svg></body></html>
